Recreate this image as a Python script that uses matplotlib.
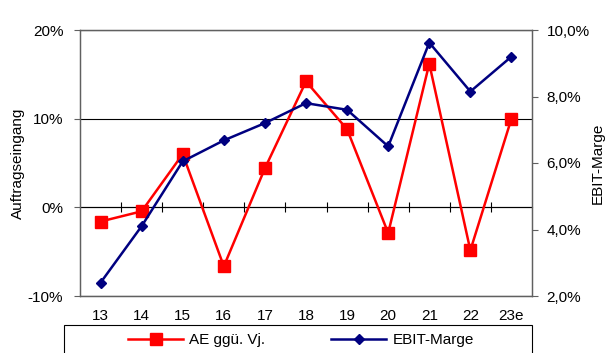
import matplotlib.pyplot as plt
from matplotlib.patches import Rectangle

plt.rcParams['font.family'] = ['Liberation Sans', 'DejaVu Sans']

# data
years = ['13', '14', '15', '16', '17', '18', '19', '20', '21', '22', '23e']
ae_ggue_vj = [-1.6, -0.45, 6.0, -6.65, 4.4, 14.2, 8.8, -2.9, 16.2, -4.85, 10.0]   # % left axis
ebit_marge = [2.4, 4.1, 6.05, 6.68, 7.2, 7.8, 7.6, 6.5, 9.62, 8.15, 9.2]        # % right axis

left_ticks = [-10, 0, 10, 20]
left_labels = ['-10%', '0%', '10%', '20%']
right_ticks = [2, 4, 6, 8, 10]
right_labels = ['2,0%', '4,0%', '6,0%', '8,0%', '10,0%']

W, H = 616, 353
fig = plt.figure(figsize=(W / 100, H / 100), dpi=100)
ax = fig.add_axes([80 / W, 1 - 296 / H, (532 - 80) / W, (296 - 30) / H])
ax2 = ax.twinx()

x = list(range(len(years)))
red = '#FF0000'
navy = '#000080'
fs = 11

l1, = ax.plot(x, ae_ggue_vj, color=red, lw=1.8, marker='s', ms=8.5, mec=red, mfc=red,
              label='AE ggü. Vj.', zorder=3)
l2, = ax2.plot(x, ebit_marge, color=navy, lw=1.8, marker='D', ms=5.5, mec=navy, mfc=navy,
               label='EBIT-Marge', zorder=4)

ax.set_xlim(-0.5, len(years) - 0.5)
ax.set_ylim(-10, 20)
ax2.set_ylim(2, 10)

ax.set_yticks(left_ticks)
ax.set_yticklabels(left_labels, fontsize=fs)
ax2.set_yticks(right_ticks)
ax2.set_yticklabels(right_labels, fontsize=fs)
ax.tick_params(axis='y', length=4, width=0.8, color='#606060', pad=8)
ax2.tick_params(axis='y', length=4, width=0.8, color='#606060', pad=6.5)

ax.set_xticks(x)
ax.set_xticklabels(years, fontsize=fs)
ax.tick_params(axis='x', length=0, pad=9)

# gridline at 10% and zero line with category tick marks
ax.yaxis.grid(True, color='black', lw=0.8)
ax.set_axisbelow(True)
zero = ax.secondary_xaxis(1 / 3)
zero.set_xticks([i + 0.5 for i in x[:-1]])
zero.tick_params(axis='x', direction='inout', length=7, width=0.8, color='black', labelbottom=False)
zero.spines['bottom'].set_color('black')
zero.spines['bottom'].set_linewidth(0.8)

for a in (ax, ax2):
    for s in a.spines.values():
        s.set_color('#606060')
        s.set_linewidth(0.9)

ax.set_ylabel('Auftragseingang', fontsize=fs)
ax.yaxis.set_label_coords((25 - 80) / 452, 0.5)
ax2.set_ylabel('EBIT-Marge', fontsize=fs)
ax2.yaxis.set_label_coords((591 - 80) / 452, 0.5)

# legend below the plot, box cut off by the figure edge
fig.patches.append(Rectangle((64 / W, -0.05), (532 - 64) / W, 1 - 325 / H + 0.05,
                             transform=fig.transFigure, fill=False, ec='black', lw=0.8))
fig.legend([l1, l2], ['AE ggü. Vj.', 'EBIT-Marge'], ncol=2, loc='center',
           bbox_to_anchor=(301 / W, 1 - 340 / H), frameon=False, fontsize=fs,
           handlelength=3.6, handletextpad=0.4, columnspacing=4.3)

fig.savefig('out.png', dpi=100)
